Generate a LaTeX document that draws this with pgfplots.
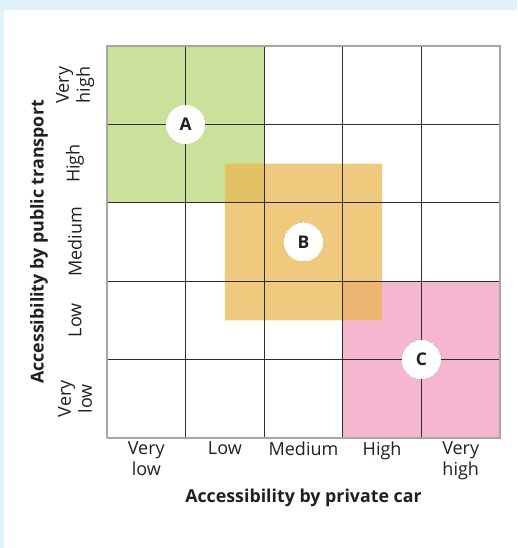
\documentclass[border=0pt]{standalone}
\usepackage{fontspec}
\setmainfont{Open Sans}
\usepackage{pgfplots}
\pgfplotsset{compat=1.18}
\definecolor{bgblue}{HTML}{E0F1FC}
\definecolor{cgreen}{HTML}{CBE09A}
\definecolor{corange}{HTML}{EAB753}
\definecolor{cpink}{HTML}{F5B6D0}
\definecolor{txt}{HTML}{231F20}
\definecolor{gridc}{HTML}{2E2E2E}
\definecolor{borderc}{HTML}{A6A6A6}
\begin{document}
\begin{tikzpicture}
\fill[bgblue] (-107pt,-110pt) rectangle (410pt,438pt);
\fill[white] (-103pt,-110pt) rectangle (410pt,428pt);
\begin{axis}[
  at={(0pt,0pt)}, anchor=south west,
  scale only axis, width=393pt, height=392pt,
  xmin=0, xmax=5, ymin=0, ymax=5,
  clip=false,
  axis line style={draw=none},
  major tick length=0pt,
  xtick={0.5,1.5,2.5,3.5,4.5},
  ytick={0.5,1.5,2.5,3.5,4.5},
  xticklabels={{Very\\low},Low,Medium,High,{Very\\high}},
  yticklabels={{Very\\low},Low,Medium,High,{Very\\high}},
  tick label style={font=\fontsize{18}{21}\selectfont, text=txt},
  xticklabel style={align=center, anchor=north, yshift=-0.5pt},
  yticklabel style={align=center, rotate=90, anchor=center},
  yticklabel shift=32pt,
  xlabel={Accessibility by private car},
  ylabel={Accessibility by public transport},
  label style={font=\fontsize{17.8}{21}\selectfont\bfseries, text=txt},
  xlabel style={at={(axis description cs:0.5,0)}, anchor=north, yshift=-47pt},
  ylabel style={at={(axis description cs:-0.173,0.5)}, anchor=center},
]
% zones
\addplot[fill=cgreen, draw=none] coordinates {(0,3) (2,3) (2,5) (0,5) (0,3)};
\addplot[fill=cpink, draw=none] coordinates {(3,0) (5,0) (5,2) (3,2) (3,0)};
\addplot[fill=corange, fill opacity=0.75, draw=none] coordinates {(1.5,1.5) (3.5,1.5) (3.5,3.5) (1.5,3.5) (1.5,1.5)};
% grid lines
\addplot[gridc, line width=1pt] coordinates {(1,0) (1,5)};
\addplot[gridc, line width=1pt] coordinates {(2,0) (2,5)};
\addplot[gridc, line width=1pt] coordinates {(3,0) (3,5)};
\addplot[gridc, line width=1pt] coordinates {(4,0) (4,5)};
\addplot[gridc, line width=1pt] coordinates {(0,1) (5,1)};
\addplot[gridc, line width=1pt] coordinates {(0,2) (5,2)};
\addplot[gridc, line width=1pt] coordinates {(0,3) (5,3)};
\addplot[gridc, line width=1pt] coordinates {(0,4) (5,4)};
% border
\addplot[borderc, line width=1.5pt] coordinates {(0,0) (5,0) (5,5) (0,5) (0,0)};
% labels in circles
\addplot[only marks, draw=none, mark=*, mark size=19pt, mark options={fill=white, draw=white, line width=0pt},
  nodes near coords, point meta=explicit symbolic,
  every node near coord/.style={anchor=center, font=\fontsize{17.5}{20}\selectfont\bfseries, text=txt}]
  table[meta=label] {
x y label
1 4 A
2.5 2.5 B
4 1 C
};
\end{axis}
\end{tikzpicture}
\end{document}
